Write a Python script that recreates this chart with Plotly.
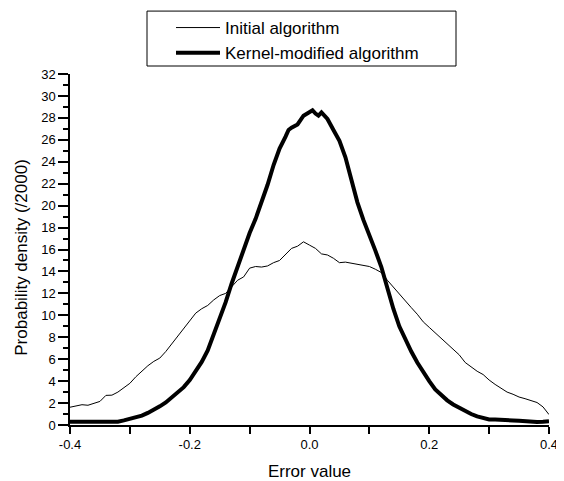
import plotly.graph_objects as go

# ---- data ----
x_initial = [round(-0.40 + 0.01 * i, 2) for i in range(81)]
y_initial = [1.62, 1.75, 1.85, 1.80, 2.00, 2.15, 2.70, 2.72, 3.00, 3.40,
             3.80, 4.40, 4.90, 5.40, 5.80, 6.10, 6.70, 7.40, 8.20, 8.90,
             9.60, 10.20, 10.60, 10.90, 11.40, 11.80, 12.00, 12.60, 13.20, 13.50,
             14.30, 14.45, 14.40, 14.50, 14.80, 15.00, 15.60, 16.10, 16.30, 16.70,
             16.40, 16.10, 15.60, 15.50, 15.20, 14.80, 14.85, 14.75, 14.65, 14.55,
             14.45, 14.20, 13.90, 13.20, 12.60, 11.90, 11.30, 10.70, 10.10, 9.40,
             8.90, 8.40, 7.90, 7.40, 6.90, 6.40, 5.70, 5.30, 4.90, 4.60,
             4.10, 3.70, 3.35, 3.00, 2.80, 2.55, 2.40, 2.20, 2.05, 1.65,
             0.95]

x_kernel = [-0.40, -0.39, -0.38, -0.37, -0.36, -0.35, -0.34, -0.33, -0.32, -0.31,
            -0.30, -0.29, -0.28, -0.27, -0.26, -0.25, -0.24, -0.23, -0.22, -0.21,
            -0.20, -0.19, -0.18, -0.17, -0.16, -0.15, -0.14, -0.13, -0.12, -0.11,
            -0.10, -0.09, -0.08, -0.07, -0.06, -0.05, -0.04, -0.035, -0.03, -0.02,
            -0.01, 0.00, 0.005, 0.01, 0.015, 0.02, 0.03, 0.04, 0.05, 0.06,
            0.07, 0.08, 0.09, 0.10, 0.11, 0.12, 0.13, 0.14, 0.15, 0.16,
            0.17, 0.18, 0.19, 0.20, 0.21, 0.22, 0.23, 0.24, 0.25, 0.26,
            0.27, 0.28, 0.29, 0.30, 0.31, 0.32, 0.33, 0.34, 0.35, 0.36,
            0.37, 0.38, 0.39, 0.40]
y_kernel = [0.30, 0.28, 0.30, 0.32, 0.30, 0.30, 0.28, 0.26, 0.30, 0.42,
            0.56, 0.70, 0.85, 1.10, 1.35, 1.70, 2.05, 2.50, 2.90, 3.45,
            4.10, 4.90, 5.75, 6.80, 8.20, 9.60, 11.20, 12.90, 14.50, 16.10,
            17.50, 18.80, 20.30, 21.90, 23.70, 25.20, 26.30, 26.90, 27.10, 27.40,
            28.20, 28.60, 28.70, 28.40, 28.20, 28.50, 27.90, 26.90, 25.90, 24.40,
            22.20, 20.30, 18.70, 17.40, 15.90, 14.40, 12.40, 10.60, 9.00, 7.80,
            6.70, 5.70, 4.80, 4.00, 3.25, 2.70, 2.25, 1.87, 1.55, 1.25,
            1.00, 0.78, 0.60, 0.50, 0.50, 0.50, 0.47, 0.42, 0.38, 0.32,
            0.28, 0.28, 0.30, 0.35]

series_names = ["Initial algorithm", "Kernel-modified algorithm"]

x_tickvals = [-0.4, -0.2, 0.0, 0.2, 0.4]
x_ticktext = ["-0.4", "-0.2", "0.0", "0.2", "0.4"]

x_title = "Error value"
y_title = "Probability density (/2000)"

FONT = "Liberation Sans, Arial, sans-serif"

# the page body has an 8px margin, so the figure is sized to fill the rest of the window
W, H = 556, 473
PW, PH = 479, 351.5   # plot area size in px

fig = go.Figure()
fig.add_trace(go.Scatter(x=x_initial, y=y_initial, mode="lines", name=series_names[0],
                         line=dict(color="black", width=1)))
fig.add_trace(go.Scatter(x=x_kernel, y=y_kernel, mode="lines", name=series_names[1],
                         line=dict(color="black", width=4)))

fig.update_layout(
    width=W, height=H,
    margin=dict(l=62, r=15, t=66, b=55.5, autoexpand=False),
    paper_bgcolor="white", plot_bgcolor="white",
    font=dict(family=FONT, color="black", size=13),
    showlegend=True,
    legend=dict(xref="container", yref="container",
                x=163 / W, y=1 - 2 / H, xanchor="left", yanchor="top",
                bgcolor="rgba(0,0,0,0)", borderwidth=0,
                font=dict(size=17, family=FONT), itemwidth=44,
                tracegroupgap=0),
    xaxis=dict(range=[-0.4, 0.4], tickvals=x_tickvals, ticktext=x_ticktext,
               ticks="outside", ticklen=7, tickwidth=1.5, tickcolor="black",
               minor=dict(dtick=0.1, tick0=-0.4, ticks="outside", ticklen=7, tickwidth=1.5, tickcolor="black"),
               showline=True, linecolor="black", linewidth=1.5,
               showgrid=False, zeroline=False,
               title=dict(text=x_title, font=dict(size=17), standoff=14)),
    yaxis=dict(range=[0, 32], tick0=0, dtick=2,
               ticks="outside", ticklen=10, tickwidth=1.5, tickcolor="black",
               minor=dict(dtick=1, ticks="outside", ticklen=5, tickwidth=1.5, tickcolor="black"),
               showline=True, linecolor="black", linewidth=1.5,
               showgrid=False, zeroline=False),
    xaxis2=dict(range=[-0.4, 0.4], overlaying="x", side="top", anchor="y2",
                tick0=-0.4, dtick=0.1, ticks="inside", ticklen=5, tickwidth=1.5,
                tickcolor="black", showticklabels=False,
                showline=True, linecolor="black", linewidth=1.5,
                showgrid=False, zeroline=False),
    yaxis2=dict(range=[0, 32], overlaying="y", side="right", anchor="x2",
                tick0=0, dtick=1, ticks="inside", ticklen=5, tickwidth=1.5,
                tickcolor="black", showticklabels=False,
                showline=True, linecolor="black", linewidth=1.5,
                showgrid=False, zeroline=False),
    annotations=[dict(text=y_title, xref="paper", yref="paper",
                      x=(22 - 70) / PW, y=(425.5 - 258) / PH,
                      xanchor="center", yanchor="middle", textangle=-90,
                      showarrow=False, font=dict(size=17, family=FONT))],
    shapes=[dict(type="rect", xref="paper", yref="paper",
                 x0=(147 - 70) / PW, x1=(456 - 70) / PW,
                 y0=(425.5 - 66) / PH, y1=(425.5 - 11) / PH,
                 line=dict(color="black", width=1), fillcolor="rgba(0,0,0,0)")],
)

fig.write_html("out.html")
